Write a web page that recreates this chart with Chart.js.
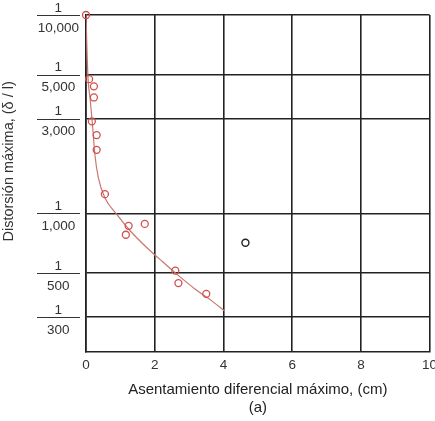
<!DOCTYPE html>
<html>
<head>
<meta charset="utf-8">
<script src="https://cdn.jsdelivr.net/npm/chart.js@4/dist/chart.umd.min.js"></script>
<style>
  html, body { margin: 0; padding: 0; background: #fff; }
  #wrap { width: 435px; height: 421px; }
</style>
</head>
<body>
<div id="wrap"><canvas id="grafico"></canvas></div>
<script>
// Asentamiento diferencial máximo (cm) vs denominador de la distorsión máxima (1/x)
const obsX   = [0.00, 0.09, 0.23, 0.23, 0.17, 0.31, 0.31, 0.55, 1.24, 1.16, 1.71, 2.60, 2.69, 3.50];
const obsDen = [10000, 4750, 4370, 3840, 2910, 2480, 2090, 1250, 865, 780, 885, 514, 445, 393];

// punto fuera de la tendencia (negro)
const outX   = [4.64];
const outDen = [711];

// curva de ajuste
const curveX   = [0.00, 0.03, 0.06, 0.12, 0.19, 0.26, 0.36, 0.55, 0.89, 1.27, 1.75, 2.23, 2.72, 3.20, 3.67, 4.04];
const curveDen = [10000, 6500, 4750, 3780, 2780, 1970, 1510, 1200, 990, 822, 677, 570, 481, 412, 361, 321];

const xTicks   = [0, 2, 4, 6, 8, 10];
const yTickDen = [10000, 5000, 3000, 1000, 500, 300];

const toPts = (xs, ys) => xs.map((x, i) => ({ x: x, y: ys[i] }));

// dibuja la raya de fracción de cada etiqueta del eje y
const rayaFraccion = {
    id: 'rayaFraccion',
    afterDraw(chart) {
        const sc = chart.scales.y;
        const ctx = chart.ctx;
        ctx.save();
        ctx.strokeStyle = '#333';
        ctx.lineWidth = 1.2;
        yTickDen.forEach(v => {
            const py = Math.round(sc.getPixelForValue(v)) + 0.5;
            ctx.beginPath();
            ctx.moveTo(sc.right - 49, py);
            ctx.lineTo(sc.right - 6, py);
            ctx.stroke();
        });
        ctx.restore();
    }
};

new Chart(document.getElementById('grafico'), {
    type: 'scatter',
    data: {
        datasets: [
            {
                label: 'curva',
                data: toPts(curveX, curveDen),
                showLine: true,
                borderColor: '#c9776c',
                borderWidth: 1.2,
                pointRadius: 0,
                cubicInterpolationMode: 'monotone',
                order: 2
            },
            {
                label: 'observado',
                data: toPts(obsX, obsDen),
                pointRadius: 3.5,
                pointBorderWidth: 1.3,
                borderColor: '#d24f4f',
                backgroundColor: 'rgba(255,255,255,0)',
                clip: false,
                order: 1
            },
            {
                label: 'atipico',
                data: toPts(outX, outDen),
                pointRadius: 3.5,
                pointBorderWidth: 1.4,
                borderColor: '#222',
                backgroundColor: 'rgba(255,255,255,0)',
                order: 1
            }
        ]
    },
    plugins: [rayaFraccion],
    options: {
        responsive: true,
        maintainAspectRatio: false,
        animation: false,
        layout: { padding: { top: 0, right: 3, bottom: 0, left: 0 } },
        plugins: {
            legend: { display: false },
            tooltip: { enabled: false }
        },
        scales: {
            x: {
                type: 'linear',
                min: 0,
                max: 10,
                afterBuildTicks: sc => { sc.ticks = xTicks.map(v => ({ value: v })); },
                afterFit: sc => { sc.height = 69; sc.paddingLeft = 0; sc.paddingRight = 0; },
                grid: { color: '#222', lineWidth: 1.6, drawTicks: false },
                border: { color: '#222', width: 1.6 },
                ticks: {
                    padding: 5,
                    color: '#333',
                    font: { family: '"Liberation Sans", Arial, sans-serif', size: 13.5 }
                },
                title: {
                    display: true,
                    text: ['Asentamiento diferencial máximo, (cm)', '(a)'],
                    color: '#222',
                    padding: { top: 0, bottom: 4 },
                    font: { family: '"Liberation Sans", Arial, sans-serif', size: 15, lineHeight: '18px' }
                }
            },
            y: {
                type: 'logarithmic',
                min: 200,
                max: 10000,
                afterBuildTicks: sc => { sc.ticks = yTickDen.map(v => ({ value: v })); },
                afterFit: sc => { sc.width = 86; sc.paddingTop = 15; sc.paddingBottom = 0; },
                grid: { color: '#222', lineWidth: 1.6, drawTicks: false },
                border: { color: '#222', width: 1.6 },
                ticks: {
                    crossAlign: 'center',
                    padding: 7,
                    labelOffset: 3,
                    color: '#333',
                    font: { family: '"Liberation Sans", Arial, sans-serif', size: 13.5, lineHeight: '20px' },
                    callback: v => ['1', v.toLocaleString('en-US')]
                },
                title: {
                    display: true,
                    // espacios al inicio: el título original queda un poco más arriba del centro
                    text: '           Distorsión máxima, (δ / l)',
                    color: '#333',
                    padding: { top: 1, bottom: 0 },
                    font: { family: '"Liberation Sans", Arial, sans-serif', size: 14.5, lineHeight: '16px' }
                }
            }
        }
    }
});
</script>
</body>
</html>
